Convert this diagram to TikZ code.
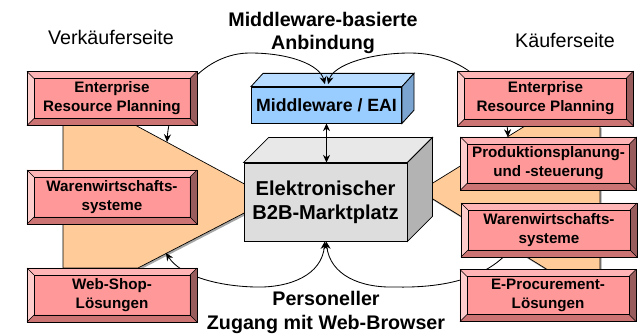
\documentclass[tikz,border=0pt]{standalone}
\usepackage{fontspec}
\setmainfont{Liberation Sans}
\usetikzlibrary{arrows.meta}

\definecolor{boxface}{HTML}{FF9999}
\definecolor{bevtop}{HTML}{FFB5B5}
\definecolor{bevleft}{HTML}{FFCCCC}
\definecolor{bevbot}{HTML}{CC7474}
\definecolor{bevright}{HTML}{985C5C}
\definecolor{wedge}{HTML}{FFCC99}
\definecolor{mwface}{HTML}{99CCFF}
\definecolor{mwtop}{HTML}{B8DCFF}
\definecolor{mwside}{HTML}{7BA4D1}
\definecolor{mktface}{HTML}{DDDDDD}
\definecolor{mkttop}{HTML}{E8E8E8}
\definecolor{mktside}{HTML}{B3B3B3}

\newcommand{\ppb}{path picture bounding box}

\tikzset{
  bevelbox/.style={draw, line width=0.6pt, fill=boxface, align=center,
    inner sep=0pt, minimum height=1.35cm,
    font=\bfseries\fontsize{10.8}{13.5}\selectfont,
    path picture={
      \fill[bevtop] (\ppb.north west) -- (\ppb.north east) -- ([shift={(-5pt,-5pt)}]\ppb.north east) -- ([shift={(5pt,-5pt)}]\ppb.north west) -- cycle;
      \fill[bevleft] (\ppb.north west) -- (\ppb.south west) -- ([shift={(5pt,5pt)}]\ppb.south west) -- ([shift={(5pt,-5pt)}]\ppb.north west) -- cycle;
      \fill[bevbot] (\ppb.south west) -- (\ppb.south east) -- ([shift={(-5pt,5pt)}]\ppb.south east) -- ([shift={(5pt,5pt)}]\ppb.south west) -- cycle;
      \fill[bevright] (\ppb.north east) -- (\ppb.south east) -- ([shift={(-5pt,5pt)}]\ppb.south east) -- ([shift={(-5pt,-5pt)}]\ppb.north east) -- cycle;
      \draw[line width=0.6pt] ([shift={(5pt,-5pt)}]\ppb.north west) rectangle ([shift={(-5pt,5pt)}]\ppb.south east);
      \draw[line width=0.4pt] (\ppb.north west) -- ++(5pt,-5pt) (\ppb.north east) -- ++(-5pt,-5pt)
        (\ppb.south west) -- ++(5pt,5pt) (\ppb.south east) -- ++(-5pt,5pt);
    }},
  leftbox/.style={bevelbox, minimum width=4.25cm},
  rightbox/.style={bevelbox, minimum width=4.4cm},
  side/.style={font=\fontsize{14}{17}\selectfont},
  headline/.style={align=center, font=\bfseries\fontsize{14}{17}\selectfont},
  link/.style={line width=0.6pt},
}

\begin{document}
\begin{tikzpicture}[x=0.025cm, y=-0.025cm, >={Stealth[length=5.5pt,width=5pt]}]
  \useasboundingbox (0,0) rectangle (642,334);

  % wedges behind the market place
  \fill[gray!70, shift={(1.5,2)}] (63,125) -- (135,125) -- (250,187) -- (250,210) -- (138,268) -- (63,268) -- cycle;
  \draw[fill=wedge, line width=0.5pt] (63,125) -- (135,125) -- (250,187) -- (250,210) -- (138,268) -- (63,268) -- cycle;
  \fill[gray!70, shift={(1.5,2)}] (600,126) -- (525,126) -- (428,186) -- (428,196) -- (548,270) -- (600,270) -- cycle;
  \draw[fill=wedge, line width=0.5pt] (600,126) -- (525,126) -- (428,186) -- (428,196) -- (548,270) -- (600,270) -- cycle;

  % middleware
  \node (mw) [draw, line width=0.6pt, fill=mwface, minimum width=3.725cm, minimum height=0.9cm,
    font=\bfseries\fontsize{12.6}{15}\selectfont] at (326.5,105) {Middleware / EAI};
  \draw[fill=mwtop, line width=0.6pt] (mw.north west) -- ++(0.3cm,0.33cm) -- ([shift={(0.3cm,0.33cm)}]mw.north east) -- (mw.north east) -- cycle;
  \draw[fill=mwside, line width=0.6pt] (mw.north east) -- ++(0.3cm,0.33cm) -- ([shift={(0.3cm,0.33cm)}]mw.south east) -- (mw.south east) -- cycle;

  % market place
  \node (mkt) [draw, line width=0.6pt, fill=mktface, minimum width=4.075cm, minimum height=1.95cm,
    align=center, font=\bfseries\fontsize{14.3}{17.2}\selectfont] at (325.5,202) {Elektronischer\\B2B-Marktplatz};
  \draw[fill=mkttop, line width=0.6pt] (mkt.north west) -- ++(0.625cm,0.625cm) -- ([shift={(0.625cm,0.625cm)}]mkt.north east) -- (mkt.north east) -- cycle;
  \draw[fill=mktside, line width=0.6pt] (mkt.north east) -- ++(0.625cm,0.625cm) -- ([shift={(0.625cm,0.625cm)}]mkt.south east) -- (mkt.south east) -- cycle;

  \draw[link, <->] (mw.south) -- (mw.south |- mkt.north);

  % connections, partly hidden by the boxes
  \coordinate (ltop) at (167,142);
  \coordinate (rtop) at (508,137);
  \coordinate (lbot) at (166,253);
  \coordinate (rbot) at (510,250);
  \draw[link, <->] (ltop) .. controls (170,95) and (205,53) .. (250,53)
    .. controls (290,53) and (320,65) .. ([shift={(-0.04cm,0.06cm)}]mw.north);
  \draw[link, <->] ([shift={(0.04cm,0.06cm)}]mw.north) .. controls (333,65) and (370,53) .. (410,53)
    .. controls (470,53) and (506,100) .. (rtop);
  \draw[link, <->] ([xshift=-0.5pt]mkt.south) .. controls (322,275) and (290,288) .. (255,287)
    .. controls (215,286) and (180,275) .. (lbot);
  \draw[link, ->] (rbot) .. controls (485,280) and (440,288) .. (395,287)
    .. controls (360,288) and (330,275) .. ([xshift=0.5pt]mkt.south);

  % seller side
  \node (lerp) [leftbox] at (112,98.5) {Enterprise\\Resource Planning};
  \node (lwws) [leftbox] at (112,197) {Warenwirtschafts-\\systeme};
  \node (lshop) [leftbox] at (112,295) {Web-Shop-\\Lösungen};

  % buyer side
  \node (rerp) [rightbox, minimum height=1.375cm] at (545.5,98.5) {Enterprise\\Resource Planning};
  \node (rpps) [rightbox, minimum height=1.325cm] at (548.5,163.5) {Produktionsplanung-\\und -steuerung};
  \node (rwws) [rightbox] at (549,230) {Warenwirtschafts-\\systeme};
  \node (rproc) [rightbox, minimum height=1.3cm] at (548,295.5) {E-Procurement-\\Lösungen};

  % labels
  \node (seller) [side] at (111,37) {Verkäuferseite};
  \node (buyer) [side] at (565,40) {Käuferseite};
  \node (mwlabel) [headline] at (323,33) {Middleware-basierte\\Anbindung};
  \node (weblabel) [headline] at (326,312) {Personeller\\Zugang mit Web-Browser};
\end{tikzpicture}
\end{document}
